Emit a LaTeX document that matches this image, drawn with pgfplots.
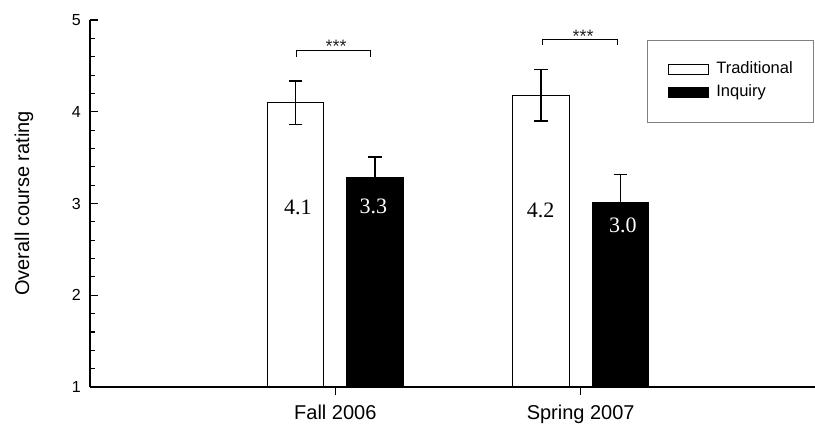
\documentclass[border=0pt]{standalone}
\usepackage{fontspec}
\setmainfont{Liberation Sans}
\newfontfamily\timesfont{Liberation Serif}
\usepackage{pgfplots}
\usepackage{pgfplotstable}
\pgfplotsset{compat=1.18}

\pgfplotstableread{
x  trad  traderr  inq   inqerr
1  4.10  0.235    3.28  0.226
2  4.18  0.28     3.01  0.31
}\ratings

\begin{document}
\begin{tikzpicture}
\begin{axis}[
  at={(0,0)}, anchor=south west,
  scale only axis, width=725pt, height=367pt,
  ybar=23pt, bar width=56.5pt,
  xmin=0, xmax=2.955, ymin=1, ymax=5,
  axis x line*=bottom, axis y line*=left,
  axis line style={-, line width=1.3pt},
  xtick={1,2}, xticklabels={Fall 2006, Spring 2007},
  ytick={1,2,3,4,5}, minor y tick num=4,
  xtick align=outside, ytick align=inside,
  major tick length=8pt, minor tick length=5pt,
  tick style={black, line width=1.1pt},
  /pgf/number format/assume math mode=true,
  yticklabel style={font=\fontsize{16}{19}\selectfont, anchor=east, inner sep=0pt, xshift=-9pt},
  xticklabel style={font=\fontsize{20}{24}\selectfont, anchor=north, inner sep=0pt, yshift=-10pt},
  ylabel={Overall course rating},
  every axis y label/.style={at={(axis description cs:-0.091,0.5)}, rotate=90, anchor=center,
    font=\fontsize{20}{24}\selectfont},
  legend style={at={(axis cs:2.9515,4.782)}, anchor=north east, draw=gray, line width=0.8pt,
    font=\fontsize{16.5}{19}\selectfont, inner xsep=21pt, inner ysep=21.5pt, row sep=6.5pt,
    nodes={inner sep=0pt, text height=12pt, text depth=4pt},
    /tikz/every odd column/.append style={column sep=7pt},
    cells={anchor=west}},
  legend image code/.code={\draw[#1, line width=1pt] (-5pt,-5pt) rectangle (35pt,5pt);},
]
\addplot[fill=white, draw=black, line width=1.2pt,
  error bars/.cd, y dir=both, y explicit,
  error bar style={line width=1.2pt, black},
  error mark options={rotate=90, mark size=6.8pt, line width=1.2pt, black}]
  table[x=x, y=trad, y error=traderr] {\ratings};
\addlegendentry{Traditional}
\addplot[fill=black, draw=black, line width=1.2pt,
  error bars/.cd, y dir=plus, y explicit,
  error bar style={line width=1.2pt, black},
  error mark options={rotate=90, mark size=6.8pt, line width=1.2pt, black}]
  table[x=x, y=inq, y error=inqerr] {\ratings};
\addlegendentry{Inquiry}

\node[font=\timesfont\fontsize{22}{26}\selectfont] at (axis cs:0.847,2.959) {4.1};
\node[font=\timesfont\fontsize{22}{26}\selectfont, text=white] at (axis cs:1.155,2.973) {3.3};
\node[font=\timesfont\fontsize{22}{26}\selectfont] at (axis cs:1.837,2.929) {4.2};
\node[font=\timesfont\fontsize{22}{26}\selectfont, text=white] at (axis cs:2.172,2.766) {3.0};

\draw[line width=1pt] (axis cs:0.840,4.60) -- (axis cs:0.840,4.673) -- (axis cs:1.144,4.673) -- (axis cs:1.144,4.60);
\node[font=\fontsize{18}{20}\selectfont, text=black!85] at (axis cs:1.003,4.71) {***};
\draw[line width=1pt] (axis cs:1.843,4.728) -- (axis cs:1.843,4.79) -- (axis cs:2.150,4.79) -- (axis cs:2.150,4.728);
\node[font=\fontsize{18}{20}\selectfont, text=black!85] at (axis cs:2.01,4.82) {***};
\end{axis}
\pgfresetboundingbox
\path[use as bounding box] (-90pt,-37pt) rectangle (725pt,387pt);
\end{tikzpicture}
\end{document}
